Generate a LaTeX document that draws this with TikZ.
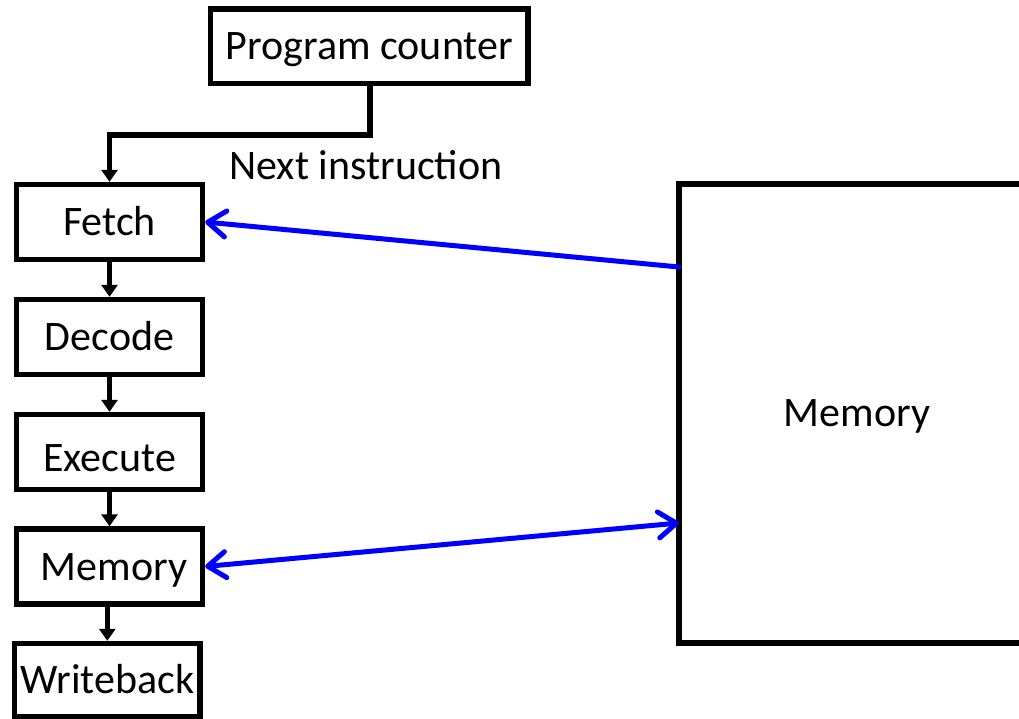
\documentclass[tikz,border=0pt]{standalone}
\usepackage{fontspec}
\setmainfont{Carlito}
\usetikzlibrary{arrows.meta}

\tikzset{
  txt/.style={font=\fontsize{42pt}{50pt}\selectfont, text height=27pt, text depth=0pt, inner sep=0pt},
  stage/.style={txt, draw=black, line width=5.4pt, rectangle, minimum width=186pt, minimum height=75pt},
  flow/.style={draw=black, line width=5.4pt, -{Triangle[length=12pt,width=16pt]}},
  bus/.style={draw=blue, line width=5pt, line cap=round},
  barb/.tip={Straight Barb[length=18pt,width=26pt,round]}
}

\begin{document}
\begin{tikzpicture}[x=1pt,y=-1pt]
  \useasboundingbox (0,0) rectangle (1019,719);

  % program counter and the pipeline stages
  \node[stage, minimum width=317.5pt, minimum height=74.5pt] (pc) at (369.3,46.3) {Program counter};
  \node[stage] (fetch)   at (109.5,222)   {Fetch};
  \node[stage] (decode)  at (109.5,337)   {Decode};
  \node[stage] (execute) at (109.5,452)   {\raisebox{-6pt}{Execute}};
  \node[stage] (memst)   at (109.5,566.5) {\hspace*{9pt}Memory};
  \node[stage, minimum width=185.5pt, minimum height=73pt] (wb) at (107.3,680) {Writeback};

  \node[txt] (nextlbl) at (366,166) {Next instruction};

  % main memory block (runs off the right edge)
  \node[txt, draw=black, line width=5.4pt, rectangle, minimum width=351pt, minimum height=459pt]
        (mainmem) at (854.5,413.5) {};
  \node[txt] (mainmemlbl) at (857,413) {Memory};

  \coordinate (memtop) at (679,267);
  \coordinate (membot) at (679,523);
  \coordinate (pcbend) at (370,135);

  % control flow
  \draw[flow] (pc.south -| pcbend) -- (pcbend) -- (pcbend -| fetch.north) -- (fetch.north);
  \draw[flow] (fetch.south) -- (decode.north);
  \draw[flow] (decode.south) -- (execute.north);
  \draw[flow] (execute.south) -- (memst.north);
  \draw[flow] (memst.south -| wb.north) -- (wb.north);

  % memory traffic
  \draw[bus, -barb] (memtop) -- (fetch.east);
  \draw[bus, barb-barb] (memst.east) -- (membot);
\end{tikzpicture}
\end{document}
